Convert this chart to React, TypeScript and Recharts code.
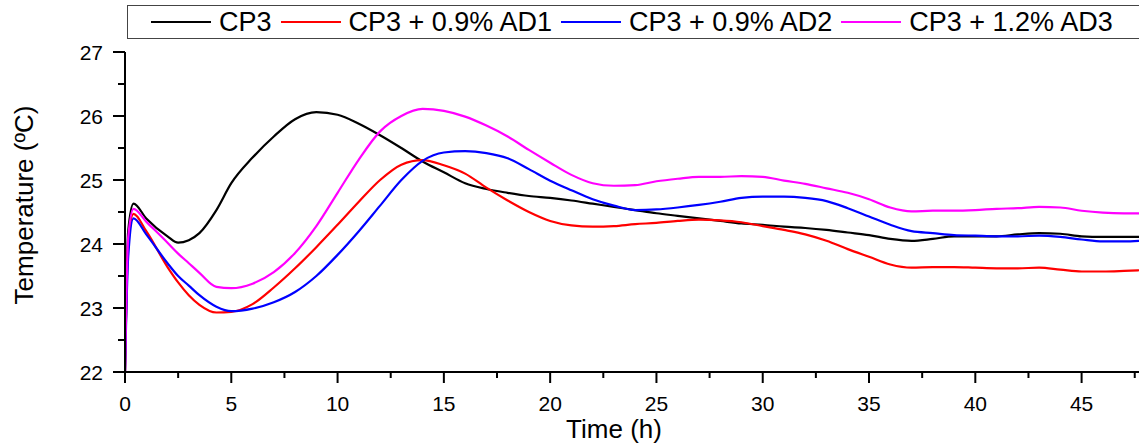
import React from 'react';
import { LineChart, Line, XAxis, YAxis, Label } from 'recharts';

// time (h)
const times = [
  0, 0.15, 0.4, 1, 2, 2.5, 3, 3.5, 4.3, 5, 6, 7, 8, 9, 10, 11, 12, 13, 14, 15, 16,
  17, 18, 19, 20, 21, 22, 23, 24, 25, 26, 27, 28, 29, 30, 31, 32, 33, 34, 35, 36,
  37, 38, 39, 40, 41, 42, 43, 44, 45, 46, 47, 47.7,
];

const cp3 = [
  22.0, 24.2, 24.63, 24.4, 24.12, 24.02, 24.06, 24.17, 24.53, 24.95, 25.35, 25.68, 25.95, 26.06, 26.02, 25.88, 25.7, 25.5, 25.29, 25.12, 24.95,
  24.86, 24.8, 24.75, 24.72, 24.68, 24.63, 24.58, 24.53, 24.48, 24.44, 24.4, 24.36, 24.32, 24.3, 24.27, 24.25, 24.22, 24.18, 24.14, 24.08,
  24.05, 24.08, 24.12, 24.12, 24.12, 24.15, 24.17, 24.16, 24.12, 24.11, 24.11, 24.11,
];

const ad1 = [
  22.0, 24.0, 24.47, 24.2, 23.64, 23.4, 23.2, 23.05, 22.93, 22.94, 23.06, 23.32, 23.62, 23.95, 24.3, 24.66, 25.0, 25.24, 25.31, 25.23, 25.1,
  24.88, 24.68, 24.5, 24.36, 24.29, 24.27, 24.28, 24.31, 24.33, 24.36, 24.38, 24.37, 24.34, 24.28, 24.22, 24.15, 24.05, 23.92, 23.8, 23.68,
  23.63, 23.64, 23.64, 23.63, 23.62, 23.62, 23.63, 23.6, 23.57, 23.57, 23.58, 23.59,
];

const ad2 = [
  22.0, 23.8, 24.4, 24.15, 23.7, 23.5, 23.35, 23.2, 23.02, 22.95, 22.99, 23.09, 23.25, 23.5, 23.83, 24.2, 24.6, 25.0, 25.3, 25.43, 25.45,
  25.42, 25.34, 25.17, 24.99, 24.84, 24.7, 24.6, 24.53, 24.54, 24.57, 24.61, 24.66, 24.72, 24.74, 24.74, 24.72, 24.67, 24.56, 24.43, 24.3,
  24.2, 24.17, 24.14, 24.13, 24.12, 24.12, 24.13, 24.11, 24.07, 24.04, 24.04, 24.05,
];

const ad3 = [
  22.0, 24.1, 24.55, 24.35, 24.02, 23.85, 23.7, 23.55, 23.33, 23.31, 23.38, 23.56, 23.86, 24.28, 24.8, 25.32, 25.76, 26.0, 26.11, 26.08, 25.99,
  25.85, 25.68, 25.47, 25.27, 25.08, 24.95, 24.91, 24.92, 24.98, 25.02, 25.05, 25.05, 25.06, 25.05, 24.99, 24.94, 24.87, 24.8, 24.7, 24.57,
  24.51, 24.52, 24.52, 24.53, 24.55, 24.56, 24.58, 24.57, 24.52, 24.49, 24.48, 24.48,
];

const xTicks = [0, 2.5, 5, 7.5, 10, 12.5, 15, 17.5, 20, 22.5, 25, 27.5, 30, 32.5, 35, 37.5, 40, 42.5, 45, 47.5];
const yTicks = [22, 22.5, 23, 23.5, 24, 24.5, 25, 25.5, 26, 26.5, 27];

const series = [
  { key: 'cp3', name: 'CP3', color: '#000000' },
  { key: 'ad1', name: 'CP3 + 0.9% AD1', color: '#ff0000' },
  { key: 'ad2', name: 'CP3 + 0.9% AD2', color: '#0000ff' },
  { key: 'ad3', name: 'CP3 + 1.2% AD3', color: '#ff00ff' },
];

const data = times.map((t, i) => ({ t, cp3: cp3[i], ad1: ad1[i], ad2: ad2[i], ad3: ad3[i] }));

const FONT = '"Liberation Sans", Arial, sans-serif';

const XTick = (props: any) => {
  const { x, y, payload } = props;
  const major = payload.value % 5 === 0;
  return (
    <g>
      <line x1={x} y1={y} x2={x} y2={y + (major ? 11 : 6)} stroke="#000" strokeWidth={2} />
      {major && (
        <text x={x} y={y + 39} textAnchor="middle" fontSize={21} fontFamily={FONT} fill="#000">
          {payload.value}
        </text>
      )}
    </g>
  );
};

const YTick = (props: any) => {
  const { x, y, payload } = props;
  const major = payload.value % 1 === 0;
  return (
    <g>
      <line x1={x} y1={y} x2={x - (major ? 12 : 7)} y2={y} stroke="#000" strokeWidth={2} />
      {major && (
        <text x={x - 22} y={y + 7.5} textAnchor="end" fontSize={21} fontFamily={FONT} fill="#000">
          {payload.value}
        </text>
      )}
    </g>
  );
};

const App = () => {
  return (
    <div style={{ position: 'absolute', left: 0, top: 0, width: 1139, height: 446, overflow: 'hidden', background: '#fff' }}>
      <LineChart width={1139} height={446} data={data} margin={{ top: 52, right: 0, bottom: 0, left: 0 }}>
        <XAxis
          dataKey="t"
          type="number"
          domain={[0, 47.7]}
          allowDataOverflow
          ticks={xTicks}
          interval={0}
          height={74}
          tickSize={0}
          tickMargin={0}
          tickLine={false}
          tick={<XTick />}
          axisLine={{ stroke: '#000', strokeWidth: 2 }}
        >
          <Label
            content={() => (
              <text x={614} y={438} textAnchor="middle" fontSize={26} fontFamily={FONT} fill="#000">
                Time (h)
              </text>
            )}
          />
        </XAxis>
        <XAxis
          xAxisId="top"
          orientation="top"
          type="number"
          domain={[0, 47.7]}
          allowDataOverflow
          ticks={xTicks}
          interval={0}
          height={0}
          mirror
          tickSize={4}
          tick={false}
          tickLine={{ stroke: '#000', strokeWidth: 1.5 }}
          axisLine={{ stroke: '#000', strokeWidth: 2 }}
        />
        <YAxis
          type="number"
          domain={[22, 27]}
          allowDataOverflow
          ticks={yTicks}
          interval={0}
          width={125}
          tickSize={0}
          tickMargin={0}
          tickLine={false}
          tick={<YTick />}
          axisLine={{ stroke: '#000', strokeWidth: 2 }}
        >
          <Label
            content={() => (
              <text
                x={33}
                y={205}
                transform="rotate(-90 33 205)"
                textAnchor="middle"
                fontSize={26}
                fontFamily={FONT}
                fill="#000"
              >
                Temperature (ºC)
              </text>
            )}
          />
        </YAxis>
        {series.map((s) => (
          <Line
            key={s.key}
            type="monotone"
            dataKey={s.key}
            name={s.name}
            stroke={s.color}
            strokeWidth={2.2}
            dot={false}
            isAnimationActive={false}
          />
        ))}
      </LineChart>
      <div
        style={{
          position: 'absolute',
          left: 127,
          top: 5,
          width: 1040,
          height: 34,
          border: '1.5px solid #444',
          display: 'flex',
          alignItems: 'center',
          paddingLeft: 23,
          boxSizing: 'border-box',
          fontFamily: FONT,
          fontSize: 27,
          color: '#000',
        }}
      >
        {series.map((s) => (
          <div key={s.key} style={{ display: 'flex', alignItems: 'center', marginRight: 9 }}>
            <div style={{ width: 60, height: 2, background: s.color, marginRight: 8 }} />
            <span style={{ lineHeight: '32px' }}>{s.name}</span>
          </div>
        ))}
      </div>
    </div>
  );
};

export default App;
